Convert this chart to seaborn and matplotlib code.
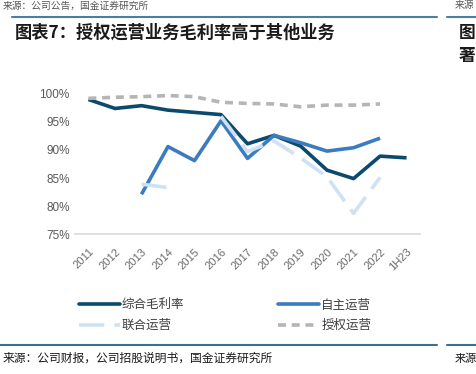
import numpy as np
import pandas as pd
import seaborn as sns
import matplotlib.pyplot as plt
from matplotlib.lines import Line2D

# dati (margine lordo, %)
anni = ["2011", "2012", "2013", "2014", "2015", "2016", "2017",
        "2018", "2019", "2020", "2021", "2022", "1H23"]
totale = [99.0, 97.4, 97.9, 97.1, 96.7, 96.3, 91.1, 92.6, 90.7, 86.4, 84.9, 88.9, 88.6]
autonomo = [np.nan, np.nan, 82.1, 90.6, 88.1, 95.2, 88.5, 92.6, 91.3, 89.8, 90.4, 92.1, np.nan]
congiunto = [np.nan, np.nan, 83.9, 83.3, np.nan, 96.0, 89.7, 91.6, 88.6, 85.2, 78.7, 85.1, np.nan]
licenza = [99.2, 99.4, 99.5, 99.7, 99.5, 98.5, 98.3, 98.2, 97.7, 98.0, 98.0, 98.2, np.nan]

nomi = ["综合毛利率", "自主运营", "联合运营", "授权运营"]
colori = ["#0b4a6c", "#3b7cc0", "#cfe1f3", "#b5b5b5"]

sns.set_style("white")
plt.rcParams["font.family"] = ["Noto Sans CJK SC", "DejaVu Sans"]

fig = plt.figure(figsize=(4.76, 3.74), dpi=100)
ax = fig.add_axes([0.158, 0.374, 0.724, 0.375])

x = np.arange(len(anni))
serie = [totale, autonomo, congiunto, licenza]
stili = [(None, 2.6), (None, 2.6), ((7, 2.8), 2.6), ((2.2, 1.6), 2.6)]

for nome, valori, col, (dash, lw) in zip(nomi, serie, colori, stili):
    df = pd.DataFrame({"x": x, "y": valori})
    # spezziamo la serie dove mancano i dati
    df["seg"] = df["y"].isna().cumsum()
    df = df.dropna()
    for _, parte in df.groupby("seg"):
        sns.lineplot(data=parte, x="x", y="y", ax=ax, color=col, lw=lw,
                     legend=False, estimator=None)
        l = ax.get_lines()[-1]
        if dash is not None:
            l.set_dashes(dash)
        l.set_solid_capstyle("butt")

ax.set_xlim(-0.5, 12.5)
ax.set_ylim(75, 100)
ax.set_yticks([75, 80, 85, 90, 95, 100])
ax.set_yticklabels([f"{v}%" for v in [75, 80, 85, 90, 95, 100]],
                   fontsize=8.5, color="#595959", family=["Liberation Sans"])
ax.set_xticks(x)
ax.set_xticklabels(anni, rotation=45, ha="right", rotation_mode="anchor",
                   fontsize=8, color="#6a6a6a", family=["Liberation Sans"])
ax.set_xticks(np.arange(-0.5, 13, 1), minor=True)
ax.tick_params(axis="x", which="major", length=0, pad=9)
ax.tick_params(axis="x", which="minor", length=3, direction="in", color="#d9d9d9", width=1)
ax.tick_params(axis="y", length=0, pad=4)
ax.set_xlabel("")
ax.set_ylabel("")
for s in ["top", "right", "left"]:
    ax.spines[s].set_visible(False)
ax.spines["bottom"].set_color("#d9d9d9")
ax.spines["bottom"].set_linewidth(1.2)

maniglie = [Line2D([], [], color=c, lw=2.6) for c in colori]
maniglie[2].set_dashes((7, 2.8))
maniglie[3].set_dashes((2.2, 1.6))
ordine = [0, 2, 1, 3]
fig.legend([maniglie[i] for i in ordine], [nomi[i] for i in ordine],
           loc="upper left", bbox_to_anchor=(0.142, 0.232), ncol=2, frameon=False,
           fontsize=9, handlelength=3.3, handletextpad=0.15, columnspacing=7.5,
           labelspacing=0.6, labelcolor="#404040")

# intestazione e piede della pagina
fig.add_artist(Line2D([0.025, 0.918], [0.955, 0.955], color="#4a7fa0", lw=1.5))
fig.add_artist(Line2D([0.94, 1.0], [0.955, 0.955], color="#4a7fa0", lw=1.5))
fig.add_artist(Line2D([0.0, 0.918], [0.078, 0.078], color="#3f6f8c", lw=1.5))
fig.add_artist(Line2D([0.94, 1.0], [0.078, 0.078], color="#3f6f8c", lw=1.5))
fig.text(0.03, 0.913, "图表7：授权运营业务毛利率高于其他业务", fontsize=12.4,
         fontweight="bold", color="#1a1a1a", va="center")
fig.text(0.963, 0.913, "图", fontsize=12, fontweight="bold", color="#1a1a1a", va="center")
fig.text(0.963, 0.85, "著", fontsize=12, fontweight="bold", color="#1a1a1a", va="center")
fig.text(0.005, 0.042, "来源：公司财报，公司招股说明书，国金证券研究所", fontsize=8.5,
         color="#1a1a1a", va="center")
fig.text(0.955, 0.042, "来源", fontsize=8, color="#1a1a1a", va="center")
fig.text(0.005, 0.999, "来源：公司公告，国金证券研究所", fontsize=7,
         color="#555555", va="top")
fig.text(0.955, 0.999, "来源", fontsize=7, color="#555555", va="top")

fig.savefig("out.png", dpi=100)
